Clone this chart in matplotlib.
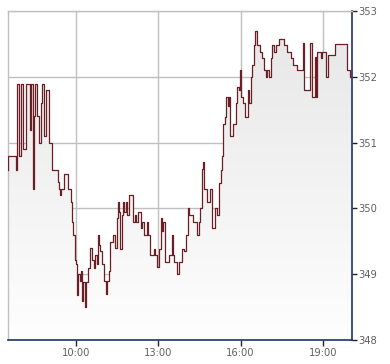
import matplotlib
matplotlib.use("Agg")
import matplotlib.pyplot as plt
import numpy as np
from matplotlib.colors import LinearSegmentedColormap

# intraday prices (step after each time)
times = [
    "07:31", "07:32", "07:49", "07:51", "07:55", "08:00", "08:04", "08:11", "08:19", "08:22",
    "08:26", "08:28", "08:30", "08:35", "08:39", "08:43", "08:46", "08:50", "08:54", "09:01",
    "09:08", "09:21", "09:23", "09:25", "09:27", "09:34", "09:43", "09:49", "09:51", "09:53",
    "09:58", "10:00", "10:02", "10:04", "10:09", "10:11", "10:13", "10:15", "10:20", "10:22",
    "10:26", "10:31", "10:35", "10:39", "10:42", "10:46", "10:48", "10:50", "10:52", "10:57",
    "11:01", "11:06", "11:08", "11:12", "11:14", "11:21", "11:25", "11:30", "11:32", "11:34",
    "11:36", "11:41", "11:43", "11:46", "11:49", "11:52", "11:56", "12:05", "12:09", "12:12",
    "12:16", "12:22", "12:24", "12:29", "12:35", "12:37", "12:42", "12:51", "12:53", "12:57",
    "13:01", "13:06", "13:08", "13:10", "13:15", "13:23", "13:30", "13:32", "13:34", "13:41",
    "13:45", "13:52", "13:56", "14:01", "14:05", "14:07", "14:16", "14:25", "14:29", "14:31",
    "14:36", "14:38", "14:40", "14:46", "14:53", "14:57", "15:04", "15:08", "15:13", "15:17",
    "15:19", "15:21", "15:26", "15:28", "15:32", "15:35", "15:37", "15:43", "15:50", "15:52",
    "15:56", "15:59", "16:01", "16:05", "16:10", "16:16", "16:18", "16:23", "16:25", "16:29",
    "16:31", "16:36", "16:42", "16:47", "16:51", "16:55", "16:58", "17:02", "17:06", "17:09",
    "17:13", "17:17", "17:24", "17:35", "17:41", "17:50", "17:54", "18:03", "18:16", "18:19",
    "18:32", "18:36", "18:43", "18:45", "18:47", "18:56", "18:58", "19:07", "19:11", "19:26",
    "19:53", "19:59", "20:04",
]
prices = [
    350.59, 350.80, 350.59, 351.89, 350.80, 351.89, 350.90, 351.89, 351.19, 351.89,
    350.29, 351.40, 351.89, 351.40, 350.99, 351.60, 351.89, 351.10, 351.80, 351.00,
    350.59, 350.40, 350.29, 350.20, 350.29, 350.52, 350.29, 350.10, 349.79, 349.60,
    349.22, 349.15, 348.68, 349.00, 348.90, 349.05, 348.60, 348.88, 348.50, 348.88,
    349.10, 349.40, 349.22, 349.10, 349.29, 349.15, 349.60, 349.45, 349.35, 349.15,
    348.90, 348.70, 348.90, 349.05, 349.49, 349.60, 349.40, 349.85, 350.10, 349.95,
    349.39, 349.90, 350.10, 349.95, 350.10, 349.90, 350.20, 349.80, 349.90, 349.80,
    349.95, 349.70, 349.80, 349.60, 349.80, 349.60, 349.29, 349.39, 349.29, 349.11,
    349.39, 349.85, 349.65, 349.80, 349.19, 349.29, 349.60, 349.29, 349.19, 349.00,
    349.19, 349.39, 349.35, 349.60, 350.00, 349.90, 349.80, 349.60, 349.80, 350.00,
    350.60, 350.70, 350.29, 350.10, 350.29, 349.70, 350.00, 349.90, 350.38, 350.58,
    350.79, 351.29, 351.39, 351.70, 351.55, 351.70, 351.10, 351.29, 351.60, 351.85,
    351.80, 352.10, 351.70, 351.60, 351.39, 351.80, 351.60, 352.00, 352.18, 352.48,
    352.69, 352.48, 352.38, 352.29, 352.10, 352.00, 352.10, 352.00, 352.29, 352.48,
    352.38, 352.48, 352.58, 352.48, 352.38, 352.29, 352.18, 352.10, 352.51, 351.80,
    352.51, 351.70, 352.30, 351.70, 352.38, 352.28, 352.38, 352.00, 352.33, 352.50,
    352.10, 352.00, 352.00,
]

x_ticks = ["10:00", "13:00", "16:00", "19:00"]
y_ticks = [348, 349, 350, 351, 352, 353]


def to_minutes(t):
    h, m = t.split(":")
    return int(h) * 60 + int(m)


x = np.array([to_minutes(t) for t in times], dtype=float)
y = np.array(prices)

line_color = "#6b1f25"
axis_color = "#1c3564"
grid_color = "#c0c0c0"
text_color = "#606060"

fig = plt.figure(figsize=(3.9, 3.64), dpi=100)
ax = fig.add_axes([8 / 390, 24 / 364, 344 / 390, 329 / 364])

x0, x1 = x[0], x[-1]
y0, y1 = 348, 353
ax.set_xlim(x0, x1)
ax.set_ylim(y0, y1)

# gradient fill under the step line
poly = ax.fill_between(x, y, y0, step="post", color="none", lw=0)
cmap = LinearSegmentedColormap.from_list("fade", ["#fefefe", "#e6e6e6"])
grad = np.linspace(0, 1, 256).reshape(-1, 1)
img = ax.imshow(grad, cmap=cmap, aspect="auto", origin="lower",
                extent=[x0, x1, y0, y1], zorder=1)
img.set_clip_path(poly.get_paths()[0], transform=ax.transData)

ax.step(x, y, where="post", color=line_color, lw=0.9, zorder=3)

ax.set_xticks([to_minutes(t) for t in x_ticks])
ax.set_xticklabels(x_ticks)
ax.set_yticks(y_ticks)
ax.yaxis.tick_right()
ax.grid(True, color=grid_color, lw=1.0, zorder=0)
ax.set_axisbelow(True)

for side in ["top", "left"]:
    ax.spines[side].set_color(grid_color)
    ax.spines[side].set_linewidth(1.0)
for side in ["bottom", "right"]:
    ax.spines[side].set_color(axis_color)
    ax.spines[side].set_linewidth(1.2)

ax.tick_params(axis="x", direction="out", length=4, width=1, color="#222222",
               labelsize=7.2, labelcolor=text_color, pad=2)
ax.tick_params(axis="y", direction="out", length=3.5, width=1, color="#222222",
               labelsize=7.2, labelcolor=text_color, pad=1)

fig.savefig("out.png", dpi=100)
plt.close(fig)
